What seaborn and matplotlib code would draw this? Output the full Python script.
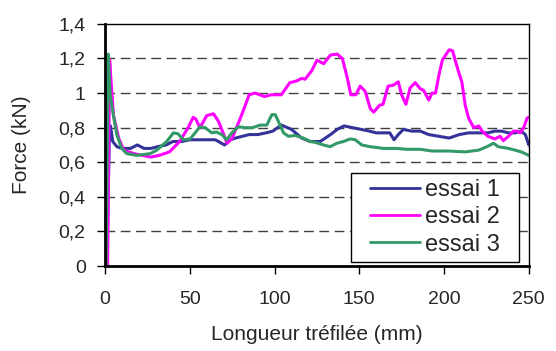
import pandas as pd
import seaborn as sns
import matplotlib
matplotlib.use('Agg')
import matplotlib.pyplot as plt
from matplotlib.patches import Rectangle
from matplotlib.ticker import FuncFormatter

# Values
essai1_x = [0, 1, 2.5, 3.2, 4.5, 7, 10, 15, 19, 23, 27, 31, 36, 40, 45, 50, 55, 60, 65, 70.5,
            74, 77, 81, 85, 90, 95, 99, 104, 110, 116, 121, 127, 133, 137, 141, 146, 151, 156,
            160, 165, 168, 170.5, 173, 176, 181, 186, 191, 197, 203, 209, 214.5, 220, 226, 230,
            234, 238, 242, 245.5, 248, 250]
essai1_y = [0, 0, 0.75, 0.81, 0.72, 0.69, 0.68, 0.68, 0.70, 0.68, 0.68, 0.69, 0.70, 0.72, 0.72,
            0.73, 0.73, 0.73, 0.73, 0.70, 0.73, 0.74, 0.75, 0.76, 0.76, 0.77, 0.78, 0.815, 0.79,
            0.74, 0.72, 0.72, 0.76, 0.79, 0.81, 0.80, 0.79, 0.78, 0.77, 0.77, 0.77, 0.73, 0.76,
            0.79, 0.78, 0.78, 0.76, 0.75, 0.74, 0.76, 0.77, 0.77, 0.77, 0.78, 0.78, 0.77, 0.77,
            0.78, 0.76, 0.70]

essai2_x = [0, 1.5, 2.7, 4, 5, 8, 11, 17, 22, 27, 32, 38, 44, 49, 52, 53.5, 56, 60, 64, 67, 70,
            72, 75, 79, 82, 85, 88.5, 94, 98, 104, 109, 113, 116, 118, 122, 125, 129, 133, 137,
            140, 143, 145, 148, 150.5, 153.5, 156.5, 158.5, 162, 164, 167, 170, 173, 175, 177.5,
            180, 183, 186, 188, 191, 193, 195, 197, 199, 203, 205, 208.5, 210.5, 212.5, 214.5,
            217.5, 220.5, 222.5, 226, 230, 233, 235, 238, 241, 243, 245, 247, 249, 250]
essai2_y = [0, 0, 1.19, 1.0, 0.87, 0.74, 0.67, 0.65, 0.64, 0.63, 0.64, 0.66, 0.72, 0.80, 0.86,
            0.85, 0.80, 0.87, 0.88, 0.835, 0.76, 0.71, 0.74, 0.835, 0.91, 0.99, 1.0, 0.98, 0.99,
            0.99, 1.06, 1.07, 1.085, 1.08, 1.13, 1.19, 1.17, 1.22, 1.225, 1.20, 1.085, 0.99, 0.99,
            1.04, 1.01, 0.91, 0.89, 0.93, 0.935, 1.04, 1.045, 1.065, 0.99, 0.935, 1.03, 1.06,
            1.025, 1.015, 0.96, 1.0, 1.0, 1.105, 1.19, 1.25, 1.245, 1.125, 1.065, 0.93, 0.855,
            0.80, 0.81, 0.78, 0.75, 0.735, 0.75, 0.725, 0.75, 0.78, 0.78, 0.77, 0.80, 0.855, 0.86]

essai3_x = [0, 0.6, 1.8, 3, 4.9, 6.9, 9.8, 12.8, 18.7, 26.6, 30.5, 36.4, 40.3, 43, 46.2, 50.2,
            56, 59, 63, 65.7, 68.9, 71.8, 74.8, 78.7, 82.6, 87, 91.5, 95.4, 98.4, 100.4, 102.3,
            105.3, 108.2, 112, 117, 121, 124, 128.9, 132.8, 136.8, 140.7, 144.6, 147.6, 151.5,
            156.4, 164.3, 172, 178, 186, 192.8, 202.7, 212.5, 220.4, 225.3, 229.2, 232, 238, 242,
            245.6, 250]
essai3_y = [0, 0, 1.225, 0.99, 0.87, 0.76, 0.68, 0.65, 0.64, 0.65, 0.67, 0.72, 0.77, 0.765,
            0.73, 0.735, 0.805, 0.80, 0.77, 0.775, 0.76, 0.73, 0.77, 0.805, 0.80, 0.80, 0.815,
            0.815, 0.875, 0.875, 0.835, 0.77, 0.75, 0.755, 0.74, 0.72, 0.715, 0.70, 0.69, 0.71,
            0.72, 0.735, 0.73, 0.70, 0.69, 0.68, 0.68, 0.675, 0.675, 0.665, 0.665, 0.66, 0.67,
            0.69, 0.71, 0.69, 0.68, 0.67, 0.66, 0.64]

series_names = ['essai 1', 'essai 2', 'essai 3']
colors = ['#333399', '#ff00ff', '#339966']

df = pd.concat([
    pd.DataFrame({'x': essai1_x, 'y': essai1_y, 'essai': series_names[0]}),
    pd.DataFrame({'x': essai2_x, 'y': essai2_y, 'essai': series_names[1]}),
    pd.DataFrame({'x': essai3_x, 'y': essai3_y, 'essai': series_names[2]}),
])

sns.set_style('white')
plt.rcParams['font.family'] = ['Liberation Sans', 'DejaVu Sans']

fig = plt.figure(figsize=(5.56, 3.51), dpi=100)
ax = fig.add_axes([0.189, 0.242, 0.762, 0.690])

sns.lineplot(data=df, x='x', y='y', hue='essai', palette=colors, estimator=None,
             sort=False, linewidth=2.2, ax=ax)

ax.set_xlim(0, 250)
ax.set_ylim(0, 1.4)
ax.set_xticks([0, 50, 100, 150, 200, 250])
ax.set_yticks([0, 0.2, 0.4, 0.6, 0.8, 1.0, 1.2, 1.4])
ax.yaxis.set_major_formatter(FuncFormatter(lambda v, p: ('%g' % round(v, 1)).replace('.', ',')))

# dashed horizontal gridlines
for yv in [0.2, 0.4, 0.6, 0.8, 1.0, 1.2]:
    ax.axhline(yv, color='#404040', lw=1.0, dashes=(7, 4), zorder=0)

ax.tick_params(axis='both', direction='out', length=6, width=1, color='black',
               labelsize=14, left=True, bottom=True)
ax.tick_params(axis='x', pad=12)
ax.tick_params(axis='y', pad=8)
ax.spines['left'].set_linewidth(2)
ax.spines['bottom'].set_linewidth(2)
ax.spines['top'].set_linewidth(1)
ax.spines['right'].set_linewidth(1)
for s in ax.spines.values():
    s.set_color('black')

ax.set_xlabel('Longueur tréfilée (mm)', fontsize=15, labelpad=12)
ax.set_ylabel('Force (kN)', fontsize=15, labelpad=20)

# legend box drawn separately, entries centered inside it
ax.add_patch(Rectangle((0.580, 0.018), 0.398, 0.365, transform=ax.transAxes,
                       facecolor='white', edgecolor='black', lw=1, zorder=4))
leg = ax.legend(loc='center', bbox_to_anchor=(0.779, 0.2005), fontsize=17,
                frameon=False, handlelength=2.1, borderpad=0, labelspacing=0.22,
                handletextpad=0.21)
leg.set_zorder(5)
for h in leg.get_lines():
    h.set_linewidth(2)

fig.savefig('out.png', dpi=100)
